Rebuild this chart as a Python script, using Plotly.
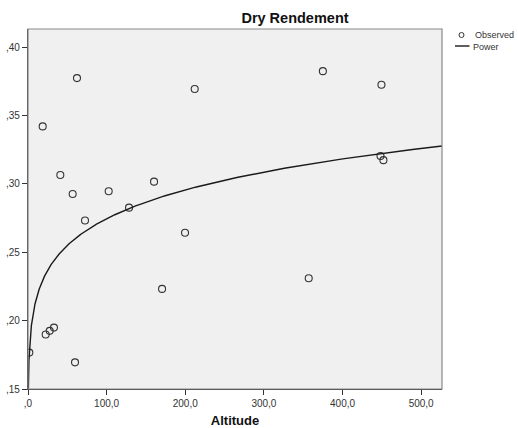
import numpy as np
import plotly.graph_objects as go

altitude = [1.7, 18.7, 62.3, 41.1, 56.8, 102.6, 128.5, 160.3, 212.0, 72.5, 199.7,
            170.5, 22.5, 27.6, 33.0, 59.8, 375.0, 449.5, 448.3, 452.0, 357.0]
dry_rendement = [0.1766, 0.342, 0.3773, 0.3065, 0.2926, 0.2946, 0.2826, 0.3016, 0.3693,
                 0.2732, 0.2642, 0.2232, 0.1898, 0.1925, 0.1949, 0.1695, 0.3824, 0.3724,
                 0.3204, 0.3173, 0.231]

x_tickvals = [0, 100, 200, 300, 400, 500]
x_ticktext = [",0", "100,0", "200,0", "300,0", "400,0", "500,0"]
y_tickvals = [0.15, 0.20, 0.25, 0.30, 0.35, 0.40]
y_ticktext = [",15", ",20", ",25", ",30", ",35", ",40"]
legend_labels = ["Observed", "Power"]

x_range = [0, 526.5]
y_range = [0.15, 0.4132]

# Power model fitted (ln y = ln a + b ln x) to the observed data
bx = np.log(np.array(altitude))
by = np.log(np.array(dry_rendement))
b, ln_a = np.polyfit(bx, by, 1)
a = np.exp(ln_a)
xs = np.geomspace(0.2, x_range[1], 500)
ys = a * xs ** b

font = "Arial, Liberation Sans, sans-serif"
W, H = 518, 428
ML, MR, MT, MB = 28, 76, 29, 39
PW, PH = W - ML - MR, H - MT - MB


def px_x(p):
    return (p - ML) / PW


def px_y(p):
    return 1 - (p - MT) / PH


fig = go.Figure()
fig.add_trace(go.Scatter(
    x=altitude, y=dry_rendement, mode="markers", name=legend_labels[0],
    marker=dict(symbol="circle-open", size=7, color="#333333", line=dict(width=1.1)),
))
fig.add_trace(go.Scatter(
    x=xs, y=ys, mode="lines", name=legend_labels[1],
    line=dict(color="#1a1a1a", width=1.4),
))

# Compact legend (SPSS style) drawn with shapes + text
shapes = [
    dict(type="rect", xref="paper", yref="paper", x0=0, y0=0, x1=1, y1=1,
         line=dict(color="#888888", width=1.2), fillcolor="rgba(0,0,0,0)", layer="above"),
    dict(type="circle", xref="paper", yref="paper",
         x0=px_x(459), x1=px_x(464), y0=px_y(37.5), y1=px_y(32.5),
         line=dict(color="#333333", width=1.0)),
    dict(type="line", xref="paper", yref="paper",
         x0=px_x(455), x1=px_x(469.5), y0=px_y(46), y1=px_y(46),
         line=dict(color="#1a1a1a", width=1.4)),
]
annotations = [
    dict(text=legend_labels[0], xref="paper", yref="paper", x=px_x(472.5), y=px_y(35),
         xanchor="left", yanchor="middle", showarrow=False,
         font=dict(size=9, color="#333333")),
    dict(text=legend_labels[1], xref="paper", yref="paper", x=px_x(470.5), y=px_y(46.5),
         xanchor="left", yanchor="middle", showarrow=False,
         font=dict(size=9, color="#333333")),
]

fig.update_layout(
    width=W, height=H,
    margin=dict(l=ML, r=MR, t=MT, b=MB, autoexpand=False),
    paper_bgcolor="white", plot_bgcolor="#f0f0f0",
    font=dict(family=font, size=10, color="#222222"),
    title=dict(text="<b>Dry Rendement</b>", x=px_x(295), xref="paper", xanchor="center",
               y=1 - 18 / H, yanchor="middle", font=dict(size=14.5, color="#111111")),
    showlegend=False,
    shapes=shapes,
    annotations=annotations,
)
fig.update_xaxes(
    range=x_range, tickvals=x_tickvals, ticktext=x_ticktext, showgrid=False, zeroline=False,
    showline=True, linecolor="#333333", linewidth=1.2, ticks="outside", ticklen=5,
    tickcolor="#333333", tickfont=dict(size=10, color="#333333"), automargin=False,
    title=dict(text="<b>Altitude</b>", font=dict(size=13, color="#111111"), standoff=10),
)
fig.update_yaxes(
    range=y_range, tickvals=y_tickvals, ticktext=y_ticktext, showgrid=False, zeroline=False,
    showline=True, linecolor="#333333", linewidth=1.2, ticks="outside", ticklen=5,
    tickcolor="#333333", tickfont=dict(size=10, color="#333333"), ticklabelstandoff=0,
    automargin=False,
)

fig.write_html(
    "out.html",
    config={"displayModeBar": False},
    post_script="document.body.style.margin='0px';document.body.style.overflow='hidden';",
)
